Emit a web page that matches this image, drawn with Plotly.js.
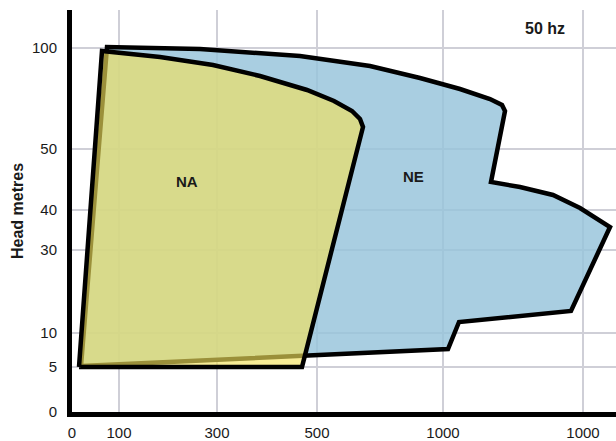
<!DOCTYPE html>
<html>
<head>
<meta charset="utf-8">
<script src="https://cdn.plot.ly/plotly-3.0.1.min.js"></script>
<style>html,body{margin:0;padding:0;background:#fff;}#chart{width:616px;height:441px;}</style>
</head>
<body>
<div id="chart"></div>
<script>
// Axis scale (positions on the drawn, non-uniform scale) and their labels
const xTickPos  = [0, 47, 145, 245, 371, 511];
const xTickText = ['0', '100', '300', '500', '1000', '1000'];
const yTickPos  = [0, 45, 79, 162, 202, 263, 364];
const yTickText = ['0', '5', '10', '30', '40', '50', '100'];

// Region NE (blue) outline, in scale positions
const neX = [9, 35, 128, 228, 298, 348, 388, 418, 430, 433, 419, 448, 481, 508, 538, 499, 387, 376, 9];
const neY = [46, 365, 363, 356, 346, 334, 323, 313, 307, 301, 230, 225, 217, 204, 185, 101, 90, 63, 46];

// Region NA (yellow) outline, in scale positions
const naX = [7, 30, 88, 141, 188, 235, 262, 280, 288, 291, 230, 7];
const naY = [45, 361, 355, 347, 336, 322, 311, 301, 293, 285, 45, 45];

// Region labels
const regionNames = ['NE', 'NA'];
const regionLabelX = [341, 115];
const regionLabelY = [236, 231];

const font = 'Liberation Sans, Arial, Helvetica, sans-serif';
const txt = '#1a1a1a';

const traces = [
  {x: neX, y: neY, mode: 'lines', fill: 'toself',
   fillcolor: 'rgba(150,195,218,0.82)', line: {color: '#000', width: 4.5},
   hoverinfo: 'skip', name: regionNames[0]},
  {x: naX, y: naY, mode: 'lines', fill: 'toself',
   fillcolor: 'rgba(243,226,90,0.64)', line: {color: '#000', width: 4.5},
   hoverinfo: 'skip', name: regionNames[1]}
];

const annotations = regionNames.map((n, i) => ({
  x: regionLabelX[i], y: regionLabelY[i], xref: 'x', yref: 'y',
  text: '<b>' + n + '</b>', showarrow: false,
  font: {family: font, size: 15, color: txt}
}));
annotations.push({
  x: 0.869, y: 0.955, xref: 'paper', yref: 'paper',
  xanchor: 'center', yanchor: 'middle',
  text: '<b>50 hz</b>', showarrow: false,
  font: {family: font, size: 16, color: txt}
});

const layout = {
  width: 616, height: 441,
  margin: {l: 72, r: 0, t: 10, b: 29, pad: 0},
  paper_bgcolor: '#fff', plot_bgcolor: '#fff',
  showlegend: false,
  font: {family: font, color: txt},
  xaxis: {
    range: [0, 544], tickmode: 'array', tickvals: xTickPos, ticktext: xTickText,
    showgrid: true, gridcolor: '#cfcfd7', gridwidth: 1.5, zeroline: false,
    showline: true, linecolor: '#000', linewidth: 5, ticks: '',
    ticklabelstandoff: 3,
    tickfont: {family: font, size: 15, color: txt}, fixedrange: true
  },
  yaxis: {
    range: [0, 402], tickmode: 'array', tickvals: yTickPos, ticktext: yTickText,
    showgrid: true, gridcolor: '#cfcfd7', gridwidth: 1.5, zeroline: false,
    showline: true, linecolor: '#000', linewidth: 5, ticks: '',
    ticklabelstandoff: 7,
    tickfont: {family: font, size: 15, color: txt}, fixedrange: true,
    title: {text: '<b>Head metres</b>', standoff: 6,
            font: {family: font, size: 16, color: txt}}
  },
  annotations: annotations
};

Plotly.newPlot('chart', traces, layout, {displayModeBar: false, staticPlot: true});
</script>
</body>
</html>
